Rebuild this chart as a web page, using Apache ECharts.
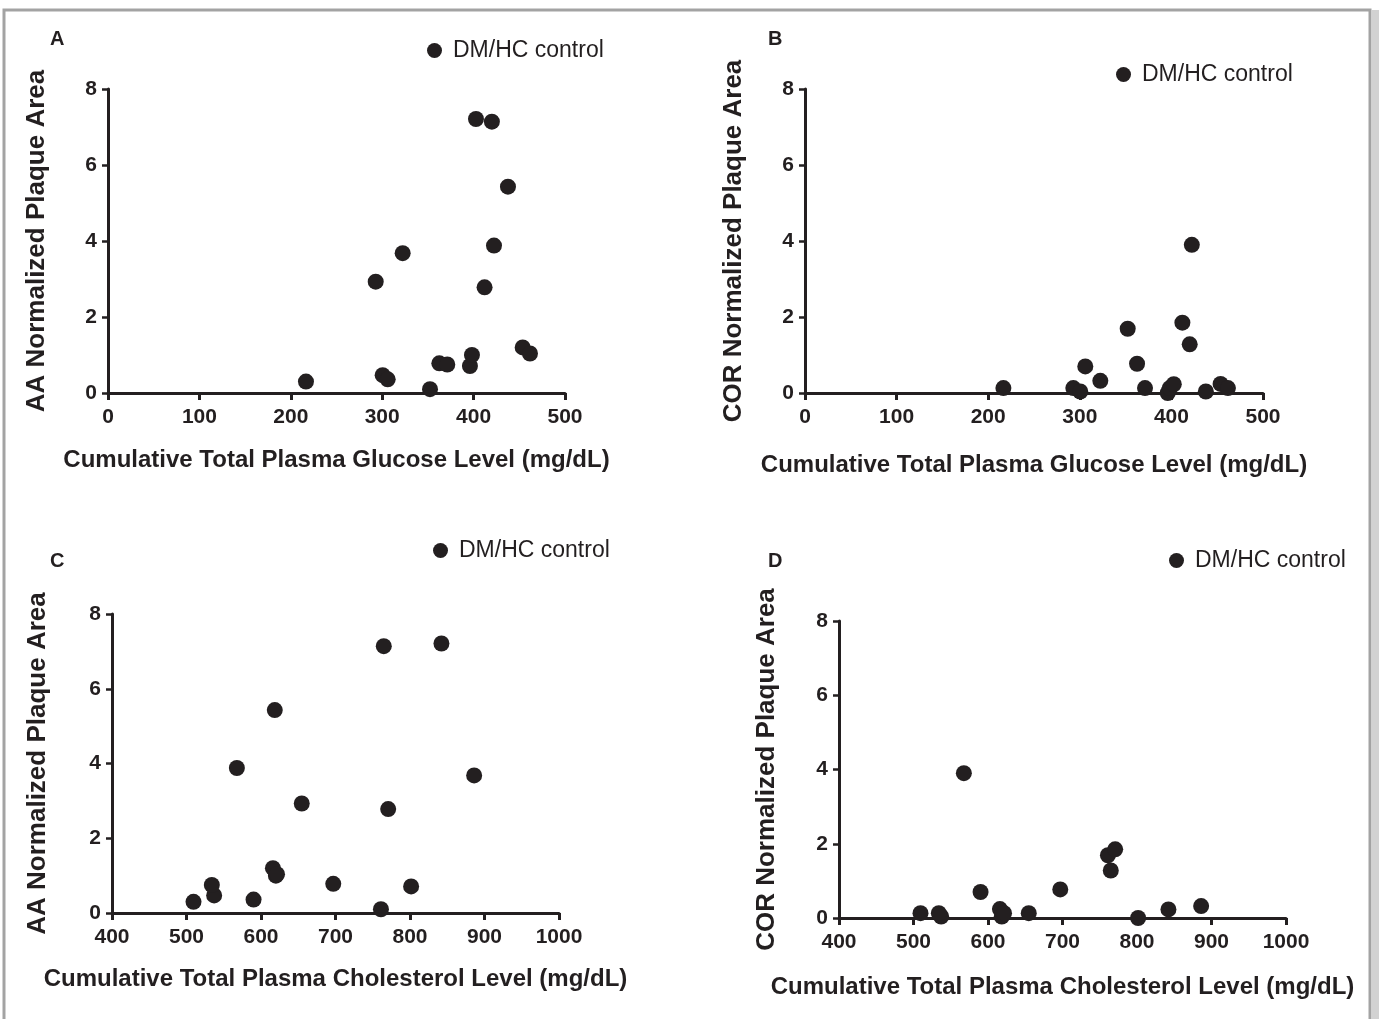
<!DOCTYPE html>
<html>
<head>
<meta charset="utf-8">
<script src="https://cdn.jsdelivr.net/npm/echarts@6/dist/echarts.min.js"></script>
<style>
html,body{margin:0;padding:0;background:#fff;}
#chart{width:1379px;height:1019px;}
</style>
</head>
<body>
<div id="chart"></div>
<script>
// Per-animal data (same 17 animals in all panels)
var glucose = [216.6, 292.9, 300.5, 306.0, 322.4, 352.3, 362.5, 371.2, 396.0, 398.2, 402.6, 412.0, 420.0, 422.3, 437.6, 453.7, 461.7];
var cholesterol = [509.4, 654.7, 537.1, 590.0, 886.1, 761.0, 697.0, 534.0, 801.5, 620.0, 842.2, 770.7, 764.8, 567.6, 618.5, 616.0, 621.5];
var aaArea = [0.30, 2.93, 0.47, 0.36, 3.68, 0.10, 0.78, 0.75, 0.71, 1.00, 7.21, 2.78, 7.14, 3.88, 5.43, 1.20, 1.04];
var corArea = [0.13, 0.13, 0.04, 0.70, 0.32, 1.69, 0.77, 0.13, 0.00, 0.13, 0.23, 1.85, 1.28, 3.90, 0.04, 0.24, 0.13];

var seriesName = 'DM/HC control';
var panelLetters = ['A', 'B', 'C', 'D'];
var yNames = ['AA Normalized Plaque Area', 'COR Normalized Plaque Area', 'AA Normalized Plaque Area', 'COR Normalized Plaque Area'];
var xNames = ['Cumulative Total Plasma Glucose Level (mg/dL)', 'Cumulative Total Plasma Glucose Level (mg/dL)',
              'Cumulative Total Plasma Cholesterol Level (mg/dL)', 'Cumulative Total Plasma Cholesterol Level (mg/dL)'];

function pairs(xs, ys) {
  var out = [];
  for (var i = 0; i < xs.length; i++) out.push([xs[i], ys[i]]);
  return out;
}
var panelData = [pairs(glucose, aaArea), pairs(glucose, corArea), pairs(cholesterol, aaArea), pairs(cholesterol, corArea)];

var FONT = '"Liberation Sans", Arial, Helvetica, sans-serif';
var INK = '#231f20';

var grids = [
  {left: 108, top: 89, width: 457, height: 304},
  {left: 805, top: 89, width: 458, height: 304},
  {left: 112, top: 614, width: 447, height: 299},
  {left: 839, top: 621, width: 447, height: 297}
];
var xRanges = [[0, 500], [0, 500], [400, 1000], [400, 1000]];
var yNameGaps = [58, 58, 61, 59];
var xNameGaps = [55, 60, 54, 57];
var letterPos = [[50, 29], [768, 29], [50, 551], [768, 551]];
var legendPos = [[427, 39], [1116, 63], [433, 539], [1169, 549]];

var axisCommon = {
  axisLine: {show: true, onZero: false, lineStyle: {color: INK, width: 3}},
  axisTick: {show: true, length: 7, lineStyle: {color: INK, width: 3}},
  splitLine: {show: false},
  axisLabel: {color: INK, fontFamily: FONT, fontWeight: 'bold', fontSize: 21, formatter: function (v) { return String(v); }},
  nameTextStyle: {color: INK, fontFamily: FONT, fontWeight: 'bold', fontSize: 24},
  nameLocation: 'middle'
};

var xAxes = [], yAxes = [], series = [], titles = [], legends = [];
for (var i = 0; i < 4; i++) {
  xAxes.push(Object.assign({}, axisCommon, {
    type: 'value', gridIndex: i, min: xRanges[i][0], max: xRanges[i][1], interval: 100,
    name: xNames[i], nameGap: xNameGaps[i],
    axisLabel: Object.assign({}, axisCommon.axisLabel, {margin: 14})
  }));
  yAxes.push(Object.assign({}, axisCommon, {
    type: 'value', gridIndex: i, min: 0, max: 8, interval: 2,
    name: yNames[i], nameGap: yNameGaps[i],
    nameTextStyle: Object.assign({}, axisCommon.nameTextStyle, {fontSize: 26}),
    axisTick: {show: true, length: 6, lineStyle: {color: INK, width: 2.5}},
    axisLabel: Object.assign({}, axisCommon.axisLabel, {margin: 11})
  }));
  series.push({
    type: 'scatter', name: seriesName, xAxisIndex: i, yAxisIndex: i,
    symbol: 'circle', symbolSize: 16,
    itemStyle: {color: INK, opacity: 1},
    data: panelData[i], z: 5
  });
  titles.push({
    text: panelLetters[i], left: letterPos[i][0], top: letterPos[i][1], padding: 0,
    textStyle: {color: INK, fontFamily: FONT, fontWeight: 'bold', fontSize: 20}
  });
  legends.push({
    data: [{name: seriesName, icon: 'circle'}],
    left: legendPos[i][0], top: legendPos[i][1], padding: 0,
    itemWidth: 15, itemHeight: 15, selectedMode: false,
    textStyle: {color: INK, fontFamily: FONT, fontSize: 23, padding: [0, 0, 0, 6]}
  });
}

var chart = echarts.init(document.getElementById('chart'), null, {renderer: 'canvas'});
chart.setOption({
  backgroundColor: '#ffffff',
  animation: false,
  title: titles,
  legend: legends,
  grid: grids,
  xAxis: xAxes,
  yAxis: yAxes,
  series: series,
  graphic: [
    {type: 'rect', shape: {x: 4, y: 10, width: 1366, height: 1030}, style: {fill: 'none', stroke: '#a3a3a3', lineWidth: 3}, z: -1, silent: true},
    {type: 'rect', shape: {x: 1372, y: 10, width: 7, height: 1009}, style: {fill: '#d2d2d2'}, z: -1, silent: true}
  ]
});
</script>
</body>
</html>
